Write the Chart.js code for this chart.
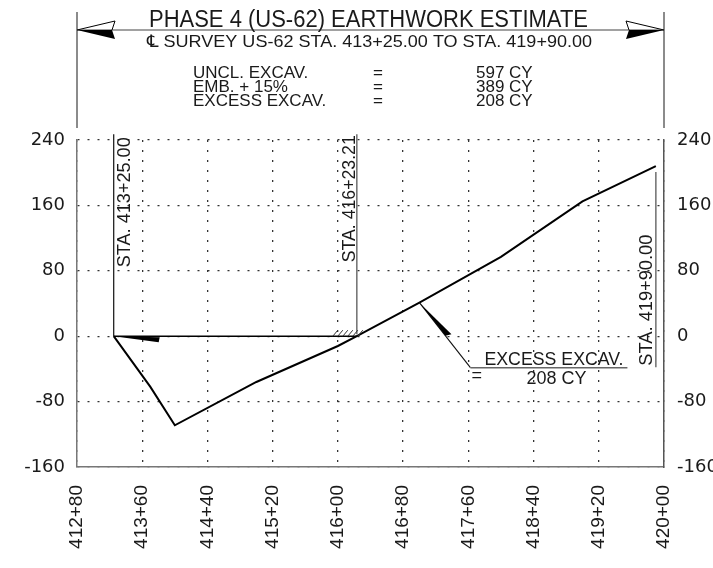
<!DOCTYPE html>
<html>
<head>
<meta charset="utf-8">
<title>Phase 4 (US-62) Earthwork Estimate</title>
<script src="https://cdn.jsdelivr.net/npm/chart.js@4/dist/chart.umd.min.js"></script>
<style>
  html, body { margin: 0; padding: 0; background: #fff; }
  #massChart { display: block; }
</style>
</head>
<body>
<canvas id="massChart" width="713" height="568"></canvas>
<script>
// ============================================
// DATA - mass ordinates
// ============================================
const stations = [41325, 41370, 41400, 41500, 41600, 41623.21, 41700, 41800, 41900, 41990];
const massOrdinates = [0, -62, -109, -56, -12, 0, 41, 97, 165, 208];
const balanceStations = [41325, 41623.21];
const balanceOrdinates = [0, 0];
const stationTicks = [41280, 41360, 41440, 41520, 41600, 41680, 41760, 41840, 41920, 42000];
const ordinateTicks = [-160, -80, 0, 80, 160, 240];
const markStations = [41325, 41623.21, 41990];
const summaryLabels = ['UNCL. EXCAV.', 'EMB. + 15%', 'EXCESS EXCAV.'];
const summaryValues = [597, 389, 208];
const leaderStation = 41700;

const TEXT = '#1a1a1a';
const NARROW = '"Liberation Sans", Arial, "DejaVu Sans", sans-serif';

// 41325 -> "413+25.00"
function fmtStation(v, dec) {
  const hundreds = Math.floor(v / 100 + 1e-9);
  const rest = (v - hundreds * 100).toFixed(dec);
  return hundreds + '+' + rest.padStart(dec ? dec + 3 : 2, '0');
}

// Text squeezed to a given width (CAD fonts are narrower than ours)
function fitText(ctx, text, px, py, size, width, align, rotate) {
  ctx.save();
  ctx.translate(px, py);
  if (rotate) ctx.rotate(-Math.PI / 2);
  ctx.font = size + 'px ' + NARROW;
  const w = ctx.measureText(text).width;
  if (width) ctx.scale(width / w, 1);
  ctx.textAlign = align || 'left';
  ctx.textBaseline = 'alphabetic';
  ctx.fillStyle = TEXT;
  ctx.fillText(text, 0, 0);
  ctx.restore();
}

// Dimension arrowhead: upper half outlined, lower half filled
function dimArrow(ctx, tipX, tipY, dir) {
  const L = 38, H = 9;
  const bx = tipX - dir * L;
  ctx.beginPath();
  ctx.moveTo(tipX, tipY);
  ctx.lineTo(bx, tipY + H);
  ctx.lineTo(bx + dir * 3, tipY);
  ctx.closePath();
  ctx.fill();
  ctx.beginPath();
  ctx.moveTo(tipX, tipY);
  ctx.lineTo(bx, tipY - H);
  ctx.lineTo(bx + dir * 3, tipY);
  ctx.stroke();
}

const drawingNotes = {
  id: 'drawingNotes',
  afterDatasetsDraw(chart) {
    const { ctx, chartArea: area, scales: { x, y } } = chart;
    ctx.save();

    // extension lines + dimension line at the top
    ctx.strokeStyle = '#666';
    ctx.lineWidth = 1.5;
    ctx.beginPath();
    ctx.moveTo(area.left, 12); ctx.lineTo(area.left, 128);
    ctx.moveTo(area.right, 12); ctx.lineTo(area.right, 128);
    ctx.stroke();
    ctx.strokeStyle = '#444';
    ctx.lineWidth = 1.2;
    ctx.beginPath();
    ctx.moveTo(area.left, 30); ctx.lineTo(area.right, 30);
    ctx.stroke();
    ctx.fillStyle = '#000';
    ctx.strokeStyle = '#000';
    ctx.lineWidth = 1;
    dimArrow(ctx, area.left, 30, -1);
    dimArrow(ctx, area.right, 30, 1);

    // title block
    fitText(ctx, 'PHASE 4 (US-62) EARTHWORK ESTIMATE', 149, 27, 23, 439);
    fitText(ctx, '\u2104 SURVEY US-62 STA. ' + fmtStation(stations[0], 2) + ' TO STA. ' +
      fmtStation(stations[stations.length - 1], 2), 147, 47, 17, 445);
    summaryLabels.forEach((lbl, i) => {
      const by = 78 + i * 14;
      fitText(ctx, lbl, 193, by, 17);
      fitText(ctx, '=', 378, by, 17, 0, 'center');
      fitText(ctx, summaryValues[i] + ' CY', 476, by, 17);
    });

    // station lines with their labels
    const y0 = y.getPixelForValue(0);
    const topY = y.getPixelForValue(247);
    const sx = markStations.map(s => x.getPixelForValue(s));
    ctx.lineWidth = 1.3;
    ctx.strokeStyle = '#222';
    ctx.beginPath(); ctx.moveTo(sx[0], y0); ctx.lineTo(sx[0], topY); ctx.stroke();
    ctx.strokeStyle = '#777';
    ctx.lineWidth = 1.6;
    ctx.beginPath(); ctx.moveTo(sx[1], y0 - 2); ctx.lineTo(sx[1], topY); ctx.stroke();
    ctx.beginPath();
    ctx.moveTo(sx[2], y.getPixelForValue(201));
    ctx.lineTo(sx[2], y.getPixelForValue(-38));
    ctx.stroke();
    fitText(ctx, 'STA. ' + fmtStation(markStations[0], 2), sx[0] + 16, topY + 3, 18, 130, 'right', true);
    fitText(ctx, 'STA. ' + fmtStation(markStations[1], 2), sx[1] - 2, topY + 1, 18, 127, 'right', true);
    fitText(ctx, 'STA. ' + fmtStation(markStations[2], 2), sx[2] - 4, y.getPixelForValue(-36), 18, 131, 'left', true);

    // hatch at the balance point
    ctx.strokeStyle = '#333';
    ctx.lineWidth = 1;
    ctx.beginPath();
    for (let i = 0; i < 6; i++) {
      const hx = sx[1] - 24 + i * 5;
      ctx.moveTo(hx, y0); ctx.lineTo(hx + 5, y0 - 6);
    }
    ctx.stroke();

    // half arrow at the start of the balance line
    const x0 = sx[0];
    ctx.fillStyle = '#000';
    ctx.beginPath();
    ctx.moveTo(x0, y0);
    ctx.lineTo(x0 + 46, y0 + 1);
    ctx.lineTo(x0 + 45, y0 + 6);
    ctx.closePath();
    ctx.fill();

    // leader to the excess note
    const li = stations.indexOf(leaderStation);
    const lx = x.getPixelForValue(leaderStation);
    const ly = y.getPixelForValue(massOrdinates[li]);
    const ex = lx + 51, ey = ly + 65;
    ctx.strokeStyle = '#111';
    ctx.lineWidth = 1.1;
    ctx.beginPath(); ctx.moveTo(lx, ly); ctx.lineTo(ex, ey); ctx.stroke();
    const ax = lx + 0.62 * 42, ay = ly + 0.785 * 42;
    ctx.beginPath();
    ctx.moveTo(lx, ly);
    ctx.lineTo(ax, ay);
    ctx.lineTo(ax + 6, ay - 1.5);
    ctx.closePath();
    ctx.fill();
    ctx.strokeStyle = '#666';
    ctx.lineWidth = 1.5;
    ctx.beginPath(); ctx.moveTo(ex, ey); ctx.lineTo(ex + 157, ey); ctx.stroke();
    fitText(ctx, summaryLabels[2], ex + 153, ey - 3, 18, 139, 'right');
    fitText(ctx, '=', ex + 1, ey + 13, 18);
    fitText(ctx, summaryValues[2] + ' CY', ex + 56, ey + 16, 18, 60);

    ctx.restore();
  }
};

const tickFontY = { family: '"DejaVu Sans", sans-serif', size: 18 };

const chart = new Chart(document.getElementById('massChart').getContext('2d'), {
  type: 'line',
  data: {
    datasets: [
      {
        label: 'Mass ordinate',
        data: stations.map((s, i) => ({ x: s, y: massOrdinates[i] })),
        borderColor: '#000',
        borderWidth: 2,
        pointRadius: 0,
        tension: 0
      },
      {
        label: 'Balance line',
        data: balanceStations.map((s, i) => ({ x: s, y: balanceOrdinates[i] })),
        borderColor: '#000',
        borderWidth: 1.5,
        pointRadius: 0
      }
    ]
  },
  options: {
    responsive: false,
    animation: false,
    layout: { padding: { top: 140, left: 0, right: 0, bottom: 0 } },
    plugins: { legend: { display: false }, tooltip: { enabled: false } },
    scales: {
      x: {
        type: 'linear',
        min: stationTicks[0],
        max: stationTicks[stationTicks.length - 1],
        afterBuildTicks: s => { s.ticks = stationTicks.map(v => ({ value: v })); },
        afterFit: s => { s.height = 101; },
        grid: { color: '#333', lineWidth: 1.3, drawTicks: false },
        border: { color: '#777', width: 1.5, dash: [2, 8] },
        ticks: {
          autoSkip: false,
          minRotation: 90,
          maxRotation: 90,
          padding: 18,
          color: TEXT,
          font: { family: NARROW, size: 19 },
          callback: v => fmtStation(v, 0)
        }
      },
      y: {
        position: 'left',
        min: ordinateTicks[0],
        max: ordinateTicks[ordinateTicks.length - 1],
        afterBuildTicks: s => { s.ticks = ordinateTicks.map(v => ({ value: v })); },
        afterFit: s => { s.width = 77; },
        grid: { color: '#333', lineWidth: 1.3, drawTicks: false },
        border: { color: '#777', width: 1.5, dash: [2, 8] },
        ticks: { padding: 12, color: TEXT, font: tickFontY }
      },
      y2: {
        position: 'right',
        min: ordinateTicks[0],
        max: ordinateTicks[ordinateTicks.length - 1],
        afterBuildTicks: s => { s.ticks = ordinateTicks.map(v => ({ value: v })); },
        afterFit: s => { s.width = 49; },
        grid: { display: false, drawTicks: false },
        border: { color: '#555', width: 1.5 },
        ticks: { padding: 13, color: TEXT, font: tickFontY }
      }
    }
  },
  plugins: [drawingNotes]
});
</script>
</body>
</html>
